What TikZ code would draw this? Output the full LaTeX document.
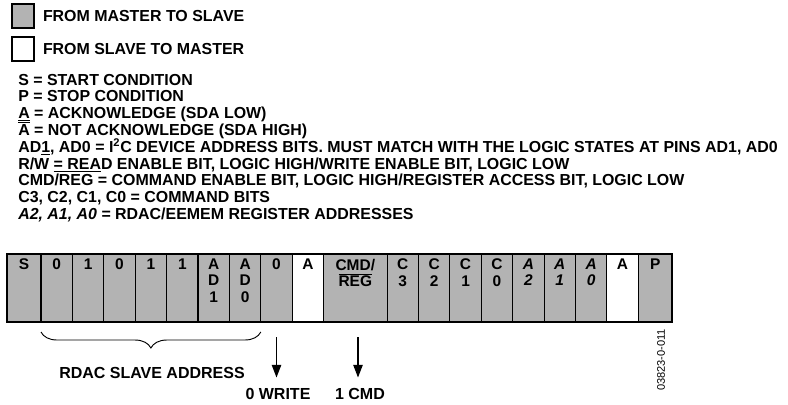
\documentclass[tikz,border=0pt]{standalone}
\usepackage{fontspec}
\setmainfont{Liberation Sans}
\usetikzlibrary{arrows.meta,positioning,decorations.pathreplacing}
\definecolor{msgray}{RGB}{179,179,179}
\newcommand{\ovl}[1]{$\overline{\mbox{#1}}$}
\newcommand{\tightlines}{\lineskiplimit=-6pt\relax}

\begin{document}
\begin{tikzpicture}[
    x=0.75pt, y=-0.75pt,
    key/.style={draw, line width=1.1pt, minimum width=16.5pt, minimum height=18pt, inner sep=0pt},
    keytxt/.style={inner sep=0pt, font=\fontsize{11.95}{12.6}\selectfont\bfseries},
    legend/.style={align=left, inner sep=0pt,
      font=\fontsize{11.95}{12.6}\selectfont\bfseries\tightlines},
    cell/.style={draw, fill=msgray, line width=0.8pt, minimum width=23.55pt,
      minimum height=51pt, inner sep=0pt, outer sep=0pt},
    celltxt/.style={anchor=north, align=center, inner sep=0pt, yshift=-3.4pt,
      font=\fontsize{11.6}{12.4}\selectfont\bfseries},
    lbl/.style={inner sep=0pt, font=\fontsize{12}{12.6}\selectfont\bfseries},
    code/.style={inner sep=0pt, font=\fontsize{8.3}{9}\selectfont},
    arrow/.style={-{Triangle[length=9.5pt,width=7pt]}, line width=1.1pt}
  ]
    \useasboundingbox (0,0) rectangle (788,404);

    \node[key, fill=msgray] (mkey) at (23,16) {};
    \node[keytxt, right=6pt of mkey] (mtxt) {FROM MASTER TO SLAVE};
    \node[key, fill=white] (skey) at (23,49) {};
    \node[keytxt, right=6pt of skey] (stxt) {FROM SLAVE TO MASTER};

    \node[legend, anchor=base west] (defs) at (18,219.4) {S = START CONDITION\\
    P = STOP CONDITION\\
    \underline{A} = ACKNOWLEDGE (SDA LOW)\\
    \ovl{A} = NOT ACKNOWLEDGE (SDA HIGH)\\
    AD\underline{1}, AD0 = I\textsuperscript{2}C DEVICE ADDRESS BITS. MUST MATCH WITH THE LOGIC STATES AT PINS AD1, AD0\\
    R/W \underline{= REA}D ENABLE BIT, LOGIC HIGH/WRITE ENABLE BIT, LOGIC LOW\\
    CMD/REG = COMMAND ENABLE BIT, LOGIC HIGH/REGISTER ACCESS BIT, LOGIC LOW\\
    C3, C2, C1, C0 = COMMAND BITS\\
    \textit{A2, A1, A0} = RDAC/EEMEM REGISTER ADDRESSES};

    \node[cell, minimum width=25.5pt, label={[celltxt]north:S}] (s) at (24,288) {};
    \node[cell, right=0pt of s, label={[celltxt]north:0}] (sa6) {};
    \node[cell, right=0pt of sa6, label={[celltxt]north:1}] (sa5) {};
    \node[cell, right=0pt of sa5, label={[celltxt]north:0}] (sa4) {};
    \node[cell, right=0pt of sa4, label={[celltxt]north:1}] (sa3) {};
    \node[cell, right=0pt of sa3, label={[celltxt]north:1}] (sa2) {};
    \node[cell, right=0pt of sa2, label={[celltxt]north:A\\D\\1}] (ad1) {};
    \node[cell, right=0pt of ad1, label={[celltxt]north:A\\D\\0}] (ad0) {};
    \node[cell, right=0pt of ad0, label={[celltxt]north:0}] (rw) {};
    \node[cell, right=0pt of rw, fill=white, label={[celltxt]north:A}] (ack1) {};
    \node[cell, right=0pt of ack1, minimum width=47.6pt, label={[celltxt]north:CMD/\\\ovl{REG}}] (cmd) {};
    \node[cell, right=0pt of cmd, label={[celltxt]north:C\\3}] (c3) {};
    \node[cell, right=0pt of c3, label={[celltxt]north:C\\2}] (c2) {};
    \node[cell, right=0pt of c2, label={[celltxt]north:C\\1}] (c1) {};
    \node[cell, right=0pt of c1, label={[celltxt]north:C\\0}] (c0) {};
    \node[cell, right=0pt of c0, label={[celltxt]north:\textit{A}\\\textit{2}}] (a2) {};
    \node[cell, right=0pt of a2, label={[celltxt]north:\textit{A}\\\textit{1}}] (a1) {};
    \node[cell, right=0pt of a1, label={[celltxt]north:\textit{A}\\\textit{0}}] (a0) {};
    \node[cell, right=0pt of a0, fill=white, label={[celltxt]north:A}] (ack2) {};
    \node[cell, right=0pt of ack2, minimum width=25.5pt, label={[celltxt]north:P}] (p) {};
    \draw[line width=1.6pt] (s.north west) rectangle (p.south east);

    \draw[decorate, decoration={brace, mirror, amplitude=12pt}, line width=0.7pt]
      ([yshift=-7.5pt]sa6.south west) -- ([yshift=-7.5pt]ad0.south east);
    \node[lbl] (addr) at (152,372.5) {RDAC SLAVE ADDRESS};

    \coordinate (wrtop) at ([yshift=-11.25pt]rw.south);
    \node[lbl] (wr) at (278,394) {0 WRITE};
    \draw[arrow, shorten >=7.9pt] (wrtop) -- (wrtop |- wr.north);
    \coordinate (cmdtop) at ([xshift=2pt,yshift=-11.25pt]cmd.south);
    \node[lbl] (cm) at (360,394) {1 CMD};
    \draw[arrow, shorten >=7.9pt] (cmdtop) -- (cmdtop |- cm.north);

    \node[code, rotate=90] (fig) at (661,360) {03823-0-011};
  \end{tikzpicture}
\end{document}
